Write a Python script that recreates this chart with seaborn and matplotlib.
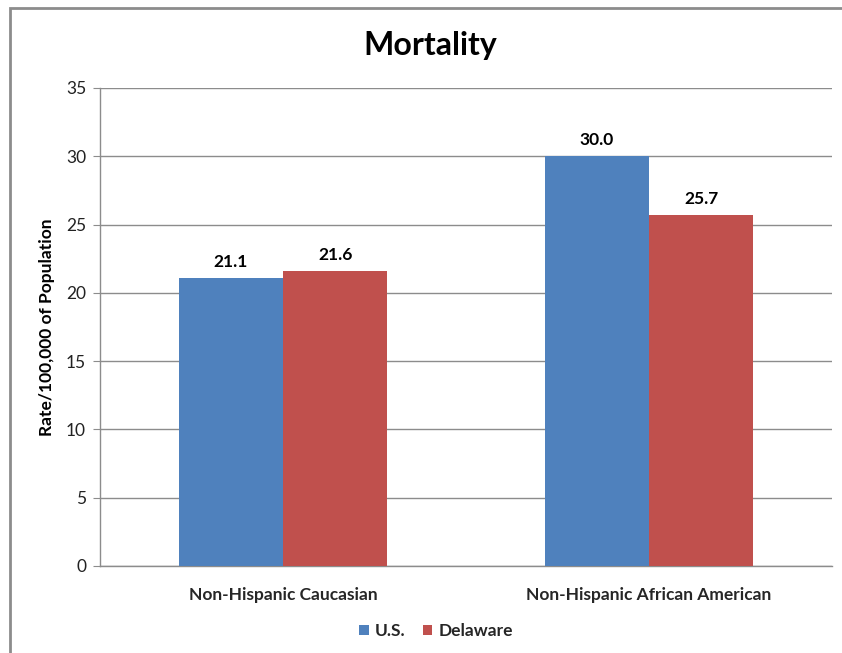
import matplotlib
matplotlib.use("Agg")
import matplotlib.pyplot as plt
from matplotlib.patches import Rectangle
import pandas as pd
import seaborn as sns

# ---------------------------------------------------------------------------
# Data
# ---------------------------------------------------------------------------
groups = ["Non-Hispanic Caucasian", "Non-Hispanic African American"]
series = ["U.S.", "Delaware"]
us_rates = [21.1, 30.0]
delaware_rates = [21.6, 25.7]
y_ticks = [0, 5, 10, 15, 20, 25, 30, 35]

colors = {"U.S.": "#4F81BD", "Delaware": "#C0504D"}
grid_col = "#8C8C8C"

df = pd.DataFrame({
    "group": groups * 2,
    "series": [series[0]] * len(groups) + [series[1]] * len(groups),
    "rate": us_rates + delaware_rates,
})

sns.set_style("white")
plt.rcParams["font.family"] = ["Lato", "DejaVu Sans"]

fig = plt.figure(figsize=(8.42, 6.53), dpi=100)
ax = fig.add_axes([100 / 842, 1 - 566 / 653, 732 / 842, 478 / 653])

sns.barplot(data=df, x="group", y="rate", hue="series", order=groups,
            hue_order=series, palette=colors, width=0.57, gap=0,
            saturation=1, errorbar=None, ax=ax, legend=True, zorder=3,
            linewidth=0)

for cont in ax.containers:
    ax.bar_label(cont, fmt="%.1f", padding=6, fontsize=12.5,
                 fontweight="bold", color="black")

ax.set_ylim(0, 35)
ax.set_yticks(y_ticks)
ax.yaxis.grid(True, color=grid_col, linewidth=1, zorder=0)
ax.set_axisbelow(True)
ax.tick_params(axis="y", length=5, color=grid_col, labelsize=12.5,
               labelcolor="#222222", pad=5, left=True)
ax.tick_params(axis="x", length=0, labelsize=12.5, pad=15)
for lbl in ax.get_xticklabels():
    lbl.set_fontweight("bold")

for side in ["top", "right"]:
    ax.spines[side].set_visible(False)
for side in ["left", "bottom"]:
    ax.spines[side].set_color(grid_col)
    ax.spines[side].set_linewidth(1)

ax.set_xlabel("")
ax.set_ylabel("Rate/100,000 of Population", fontsize=12.5, fontweight="bold",
              labelpad=8, color="black")

handles, labels = ax.get_legend_handles_labels()
ax.get_legend().remove()
leg = fig.legend(handles, labels, loc="center", bbox_to_anchor=(436 / 842, 1 - 631 / 653),
                 ncol=2, frameon=False, handlelength=0.55, handleheight=0.55,
                 handletextpad=0.35, columnspacing=1.0,
                 prop={"weight": "bold", "size": 12.5})

fig.text(430 / 842, 1 - 45 / 653, "Mortality", ha="center", va="center",
         fontsize=23, fontweight="bold", color="black")

# outer chart frame
fig.patches.append(Rectangle((9.5 / 842, -0.05), 1.2, 1 - 7.5 / 653 + 0.05,
                             transform=fig.transFigure, fill=False,
                             edgecolor="#8C8C8C", linewidth=2))

fig.savefig("out.png", dpi=100)
